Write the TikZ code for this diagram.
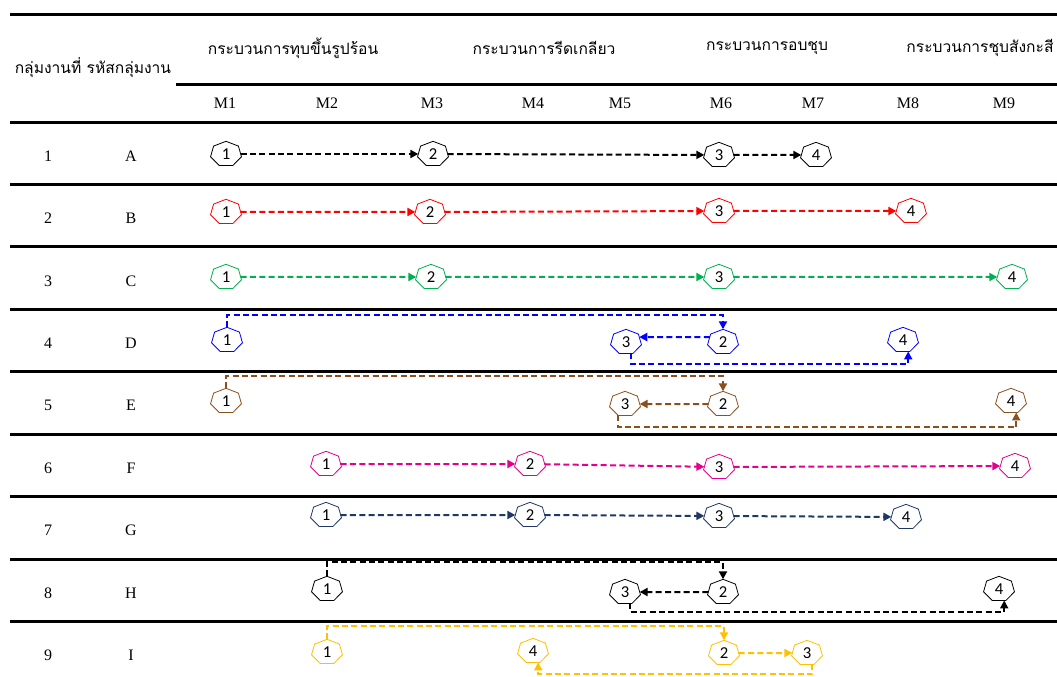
\documentclass[tikz,border=0pt]{standalone}
\usepackage{fontspec}
\setmainfont{Liberation Serif}
\newfontfamily\thaifont[Script=Thai]{Loma}
\newfontfamily\numfont{Carlito}
\usetikzlibrary{shapes.geometric,arrows.meta}

\definecolor{brn}{RGB}{140,80,30}
\definecolor{grn}{RGB}{0,176,80}
\definecolor{mag}{RGB}{226,0,141}
\definecolor{nvy}{RGB}{31,56,100}
\definecolor{gld}{RGB}{255,192,0}

% station numbers are squashed with the heptagon, so stretch them back
\newcommand{\stnum}[1]{\scalebox{1}[1.25]{#1}}

\tikzset{
	stn/.style={draw=#1,fill=white,regular polygon,regular polygon sides=7,minimum size=23.8pt,inner sep=0,outer sep=0,line width=0.6pt,yscale=0.8,transform shape,font=\numfont\fontsize{12.5}{12.5}\selectfont},
	flow/.style={draw=#1,line width=1.5pt,dash pattern=on 4.5pt off 2.5pt,-{Triangle[length=6pt,width=6pt]}},
	rule/.style={line width=2.25pt},
	thai/.style={font=\thaifont\fontsize{11.7}{13}\selectfont},
}

\begin{document}
\begin{tikzpicture}[x=0.75pt,y=-0.75pt,font=\fontsize{12}{14}\selectfont]
	\useasboundingbox (0,0) rectangle (1057,677);
	\draw[rule] (10,14.5) -- (1057,14.5);
	\draw[rule] (176,84.5) -- (1057,84.5);
	\draw[rule] (10,122.5) -- (1057,122.5);
	\foreach \y in {184.5,246.5,309.5,371.5,434.5,496.5,559.5,621.5}
		\draw[rule] (10,\y) -- (1057,\y);

	\node[thai] (hgrp) at (93,68) {กลุ่มงานที่ รหัสกลุ่มงาน};
	\node[thai] (hforge) at (293,48) {กระบวนการทุบขึ้นรูปร้อน};
	\node[thai] (hroll) at (544,48) {กระบวนการรีดเกลียว};
	\node[thai] (hheat) at (767,48) {กระบวนการอบชุบ};
	\node[thai] (hzinc) at (980,48) {กระบวนการชุบสังกะสี};
	\foreach \m/\x in {1/225,2/327,3/432,4/533,5/620,6/721,7/813,8/908,9/1004}
		\node (m\m) at (\x,103) {M\m};
	\foreach \k/\c in {1/A,2/B,3/C,4/D,5/E,6/F,7/G,8/H,9/I} {
		\node (n\k) at (48,156+62.4*\k-62.4) {\k};
		\node (c\k) at (131,156+62.4*\k-62.4) {\c};
	}

	\node[stn=black] (a1) at (226,154) {\stnum{1}};
	\node[stn=black] (a2) at (433,154) {\stnum{2}};
	\node[stn=black] (a3) at (719,155) {\stnum{3}};
	\node[stn=black] (a4) at (816,155) {\stnum{4}};
	\draw[flow=black] (a1) -- (a2);
	\draw[flow=black] (a2) -- (a3);
	\draw[flow=black] (a3) -- (a4);

	\node[stn=red] (b1) at (226,212) {\stnum{1}};
	\node[stn=red] (b2) at (430,212) {\stnum{2}};
	\node[stn=red] (b3) at (719,211) {\stnum{3}};
	\node[stn=red] (b4) at (911,211) {\stnum{4}};
	\draw[flow=red] (b1) -- (b2);
	\draw[flow=red] (b2) -- (b3);
	\draw[flow=red] (b3) -- (b4);

	\node[stn=grn] (c1) at (226,277) {\stnum{1}};
	\node[stn=grn] (c2) at (431,277) {\stnum{2}};
	\node[stn=grn] (c3) at (719,277) {\stnum{3}};
	\node[stn=grn] (c4) at (1012,277) {\stnum{4}};
	\draw[flow=grn] (c1) -- (c2);
	\draw[flow=grn] (c2) -- (c3);
	\draw[flow=grn] (c3) -- (c4);

	\node[stn=blue] (d1) at (227,340) {\stnum{1}};
	\node[stn=blue] (d2) at (723,342) {\stnum{2}};
	\node[stn=blue] (d3) at (626,342) {\stnum{3}};
	\node[stn=blue] (d4) at (903,340) {\stnum{4}};
	\draw[flow=blue] (d1.north) -- ++(0,-12) -| (d2.north);
	\draw[flow=blue] (d2.155) -- (d3.25);
	\draw[flow=blue] (d3.-70) -- ++(0,11) -| (d4.-70);

	\node[stn=brn] (e1) at (226,401) {\stnum{1}};
	\node[stn=brn] (e2) at (723,404) {\stnum{2}};
	\node[stn=brn] (e3) at (625,404) {\stnum{3}};
	\node[stn=brn] (e4) at (1011,401) {\stnum{4}};
	\draw[flow=brn] (e1.north) -- ++(0,-12) -| (e2.north);
	\draw[flow=brn] (e2) -- (e3);
	\draw[flow=brn] (e3.-115) -- ++(0,12) -| (e4.-70);

	\node[stn=mag] (f1) at (326,464) {\stnum{1}};
	\node[stn=mag] (f2) at (530,464) {\stnum{2}};
	\node[stn=mag] (f3) at (719,467) {\stnum{3}};
	\node[stn=mag] (f4) at (1015,466) {\stnum{4}};
	\draw[flow=mag] (f1) -- (f2);
	\draw[flow=mag] (f2) -- (f3);
	\draw[flow=mag] (f3) -- (f4);

	\node[stn=nvy] (g1) at (326,515) {\stnum{1}};
	\node[stn=nvy] (g2) at (530,515) {\stnum{2}};
	\node[stn=nvy] (g3) at (719,516) {\stnum{3}};
	\node[stn=nvy] (g4) at (906,517) {\stnum{4}};
	\draw[flow=nvy] (g1) -- (g2);
	\draw[flow=nvy] (g2) -- (g3);
	\draw[flow=nvy] (g3) -- (g4);

	\node[stn=black] (h1) at (327,589) {\stnum{1}};
	\node[stn=black] (h2) at (723,592) {\stnum{2}};
	\node[stn=black] (h3) at (625,592) {\stnum{3}};
	\node[stn=black] (h4) at (999,589) {\stnum{4}};
	\draw[flow=black] (h1.north) -- ++(0,-14) -| (h2.north);
	\draw[flow=black] (h2) -- (h3);
	\draw[flow=black] (h3.-70) -- ++(0,8.5) -| (h4.-70);

	\node[stn=gld] (i1) at (327,652) {\stnum{1}};
	\node[stn=gld] (i2) at (724,653) {\stnum{2}};
	\node[stn=gld] (i3) at (807,653) {\stnum{3}};
	\node[stn=gld] (i4) at (533,651) {\stnum{4}};
	\draw[flow=gld] (i1.north) -- ++(0,-13) -| (i2.north);
	\draw[flow=gld] (i2) -- (i3);
	\draw[flow=gld] (i3.-70) -- ++(0,10) -| (i4.-70);
\end{tikzpicture}
\end{document}
